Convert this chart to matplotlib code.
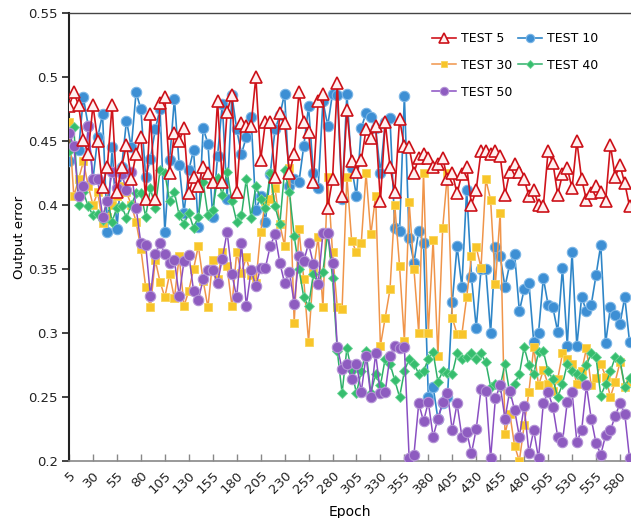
import numpy as np
import matplotlib
matplotlib.use("Agg")
import matplotlib.pyplot as plt

epochs = np.arange(5, 595, 5)  # 5 .. 590

test5 = [0.477, 0.488, 0.478, 0.451, 0.44, 0.478, 0.45, 0.414, 0.43, 0.478,
         0.41, 0.43, 0.447, 0.42, 0.44, 0.453, 0.405, 0.471, 0.405, 0.48,
         0.484, 0.425, 0.456, 0.45, 0.46, 0.409, 0.422, 0.415, 0.43, 0.425,
         0.418, 0.481, 0.418, 0.473, 0.486, 0.41, 0.464, 0.462, 0.462, 0.5,
         0.435, 0.465, 0.465, 0.422, 0.472, 0.464, 0.425, 0.44, 0.488, 0.465,
         0.457, 0.418, 0.481, 0.487, 0.398, 0.42, 0.495, 0.407, 0.474, 0.434,
         0.426, 0.435, 0.459, 0.452, 0.462, 0.403, 0.465, 0.43, 0.41, 0.467,
         0.446, 0.445, 0.425, 0.437, 0.44, 0.437, 0.43, 0.432, 0.437, 0.42,
         0.425, 0.409, 0.424, 0.43, 0.4, 0.412, 0.442, 0.442, 0.44, 0.442,
         0.438, 0.408, 0.426, 0.432, 0.426, 0.42, 0.407, 0.412, 0.4, 0.399,
         0.442, 0.433, 0.408, 0.424, 0.429, 0.413, 0.45, 0.42, 0.404, 0.409,
         0.415, 0.41, 0.403, 0.447, 0.422, 0.431, 0.417, 0.399]

test10 = [0.434, 0.446, 0.443, 0.484, 0.462, 0.42, 0.453, 0.471, 0.379, 0.445,
          0.381, 0.43, 0.466, 0.445, 0.488, 0.475, 0.422, 0.436, 0.459, 0.475,
          0.379, 0.435, 0.483, 0.431, 0.394, 0.427, 0.443, 0.383, 0.46, 0.448,
          0.391, 0.438, 0.479, 0.405, 0.486, 0.459, 0.44, 0.453, 0.469, 0.396,
          0.407, 0.387, 0.424, 0.459, 0.47, 0.487, 0.415, 0.42, 0.418, 0.446,
          0.477, 0.425, 0.413, 0.481, 0.462, 0.487, 0.486, 0.405, 0.487, 0.429,
          0.407, 0.46, 0.472, 0.469, 0.46, 0.425, 0.465, 0.468, 0.382, 0.38,
          0.485, 0.374, 0.355, 0.38, 0.37, 0.25, 0.258, 0.233, 0.245, 0.25,
          0.324, 0.368, 0.336, 0.412, 0.344, 0.304, 0.35, 0.35, 0.30, 0.367,
          0.36, 0.336, 0.354, 0.362, 0.317, 0.334, 0.339, 0.293, 0.30, 0.343,
          0.322, 0.32, 0.301, 0.351, 0.29, 0.363, 0.29, 0.328, 0.317, 0.322,
          0.345, 0.369, 0.292, 0.32, 0.314, 0.307, 0.328, 0.293]

test30 = [0.465, 0.407, 0.42, 0.434, 0.415, 0.40, 0.41, 0.386, 0.391, 0.40,
          0.407, 0.415, 0.41, 0.40, 0.387, 0.366, 0.336, 0.32, 0.357, 0.34,
          0.328, 0.346, 0.327, 0.36, 0.321, 0.333, 0.35, 0.368, 0.341, 0.32,
          0.357, 0.342, 0.363, 0.352, 0.321, 0.363, 0.347, 0.359, 0.345, 0.339,
          0.379, 0.403, 0.405, 0.413, 0.385, 0.368, 0.429, 0.308, 0.381, 0.342,
          0.293, 0.348, 0.375, 0.32, 0.422, 0.363, 0.32, 0.319, 0.422, 0.372,
          0.363, 0.37, 0.425, 0.377, 0.407, 0.29, 0.312, 0.334, 0.40, 0.352,
          0.294, 0.402, 0.35, 0.30, 0.425, 0.30, 0.373, 0.282, 0.382, 0.425,
          0.312, 0.299, 0.299, 0.328, 0.36, 0.367, 0.351, 0.42, 0.404, 0.338,
          0.394, 0.221, 0.237, 0.212, 0.2, 0.228, 0.254, 0.289, 0.259, 0.271,
          0.26, 0.255, 0.264, 0.284, 0.28, 0.276, 0.26, 0.27, 0.288, 0.259,
          0.265, 0.276, 0.266, 0.25, 0.262, 0.277, 0.258, 0.262]

test40 = [0.442, 0.461, 0.40, 0.41, 0.399, 0.392, 0.393, 0.388, 0.405, 0.387,
          0.398, 0.399, 0.39, 0.40, 0.409, 0.409, 0.391, 0.413, 0.398, 0.427,
          0.425, 0.403, 0.41, 0.392, 0.385, 0.394, 0.382, 0.391, 0.418, 0.392,
          0.396, 0.421, 0.408, 0.426, 0.403, 0.387, 0.392, 0.42, 0.39, 0.415,
          0.405, 0.398, 0.425, 0.399, 0.385, 0.427, 0.41, 0.376, 0.35, 0.328,
          0.321, 0.346, 0.339, 0.348, 0.378, 0.343, 0.286, 0.253, 0.288, 0.27,
          0.253, 0.27, 0.286, 0.253, 0.268, 0.259, 0.28, 0.276, 0.263, 0.25,
          0.27, 0.28, 0.276, 0.268, 0.27, 0.28, 0.285, 0.262, 0.27, 0.269,
          0.268, 0.284, 0.28, 0.281, 0.284, 0.28, 0.284, 0.277, 0.258, 0.26,
          0.258, 0.276, 0.253, 0.26, 0.268, 0.289, 0.275, 0.268, 0.285, 0.286,
          0.27, 0.264, 0.25, 0.26, 0.276, 0.27, 0.268, 0.266, 0.275, 0.284,
          0.281, 0.251, 0.26, 0.27, 0.281, 0.279, 0.258, 0.265]

test50 = [0.456, 0.446, 0.407, 0.415, 0.462, 0.42, 0.42, 0.391, 0.403, 0.426,
          0.413, 0.424, 0.412, 0.426, 0.398, 0.37, 0.369, 0.329, 0.362, 0.37,
          0.362, 0.355, 0.357, 0.329, 0.356, 0.361, 0.333, 0.326, 0.342, 0.349,
          0.349, 0.339, 0.358, 0.379, 0.346, 0.328, 0.37, 0.321, 0.349, 0.337,
          0.351, 0.351, 0.368, 0.377, 0.355, 0.339, 0.348, 0.323, 0.36, 0.356,
          0.37, 0.354, 0.338, 0.378, 0.378, 0.355, 0.289, 0.272, 0.276, 0.264,
          0.276, 0.254, 0.282, 0.25, 0.284, 0.253, 0.254, 0.282, 0.29, 0.288,
          0.289, 0.202, 0.205, 0.245, 0.231, 0.246, 0.219, 0.233, 0.246, 0.253,
          0.224, 0.245, 0.219, 0.223, 0.206, 0.225, 0.256, 0.255, 0.202, 0.249,
          0.259, 0.233, 0.255, 0.24, 0.219, 0.243, 0.206, 0.224, 0.202, 0.245,
          0.254, 0.242, 0.219, 0.215, 0.246, 0.254, 0.215, 0.224, 0.259, 0.233,
          0.214, 0.205, 0.22, 0.224, 0.235, 0.245, 0.237, 0.202]

xticks = list(range(5, 581, 25))
yticks = [0.2, 0.25, 0.3, 0.35, 0.4, 0.45, 0.5, 0.55]
ytick_labels = ["0.2", "0.25", "0.3", "0.35", "0.4", "0.45", "0.5", "0.55"]

plt.rcParams['font.family'] = ['DejaVu Sans']

W, H = 631, 518
fig = plt.figure(figsize=(W / 100, H / 100), dpi=100)
ax = fig.add_axes([69 / W, (H - 461) / H, 1 - 69 / W, (461 - 13) / H])

h10, = ax.plot(epochs, test10, '-', color='#2f86c8', lw=1.2, marker='o', ms=7.5,
               mfc='#3d8fd4', mec='#7ab5e6', mew=0.8, label='TEST 10', zorder=3)
h30, = ax.plot(epochs, test30, '-', color='#f0954a', lw=1.1, marker='s', ms=6,
               mfc='#f8c52a', mec='#f8d45a', mew=0.6, label='TEST 30', zorder=4)
h40, = ax.plot(epochs, test40, '-', color='#2fb06a', lw=1.1, marker='D', ms=5.5,
               mfc='#36bd6e', mec='#6fd699', mew=0.6, label='TEST 40', zorder=5)
h50, = ax.plot(epochs, test50, '-', color='#8a4fc2', lw=1.1, marker='o', ms=7.5,
               mfc='#8e5cc0', mec='#b493d6', mew=0.8, label='TEST 50', zorder=6)
h5, = ax.plot(epochs, test5, '-', color='#d0141c', lw=1.2, marker='^', ms=8.5,
              mfc='#fff0f0', mec='#cc1018', mew=1.2, label='TEST 5', zorder=7)

ax.set_xlim(5, 5 + (W - 69) / 4.791 * 5)
ax.set_ylim(0.2, 0.55)
ax.set_xticks(xticks)
ax.set_xticklabels([str(t) for t in xticks], rotation=45, ha='right',
                   rotation_mode='anchor', fontsize=9.5, color='#222222')
ax.set_yticks(yticks)
ax.set_yticklabels(ytick_labels, fontsize=9.5, color='#222222')
ax.tick_params(axis='x', direction='in', length=5, width=1, color='#888888', pad=6)
ax.tick_params(axis='y', direction='out', length=5, width=1.2, color='#222222', pad=3)

ax.spines['right'].set_visible(False)
ax.spines['left'].set_color('#222222')
ax.spines['left'].set_linewidth(1.5)
ax.spines['bottom'].set_color('#888888')
ax.spines['bottom'].set_linewidth(1.2)
ax.spines['top'].set_color('#444444')
ax.spines['top'].set_linewidth(1.0)

ax.set_xlabel('Epoch', fontsize=10, labelpad=6)
ax.set_ylabel('Output error', fontsize=9.5, labelpad=2)

handles = [h5, h30, h50, h10, h40]
leg = ax.legend(handles=handles, labels=[h.get_label() for h in handles], ncol=2,
                frameon=False, fontsize=9, loc='upper left',
                bbox_to_anchor=(427 / W, (H - 27) / H), bbox_transform=fig.transFigure,
                handlelength=1.9, handletextpad=0.4, columnspacing=0.5,
                labelspacing=1.1, borderaxespad=0, markerscale=0.8)

fig.savefig('out.png', dpi=100)
